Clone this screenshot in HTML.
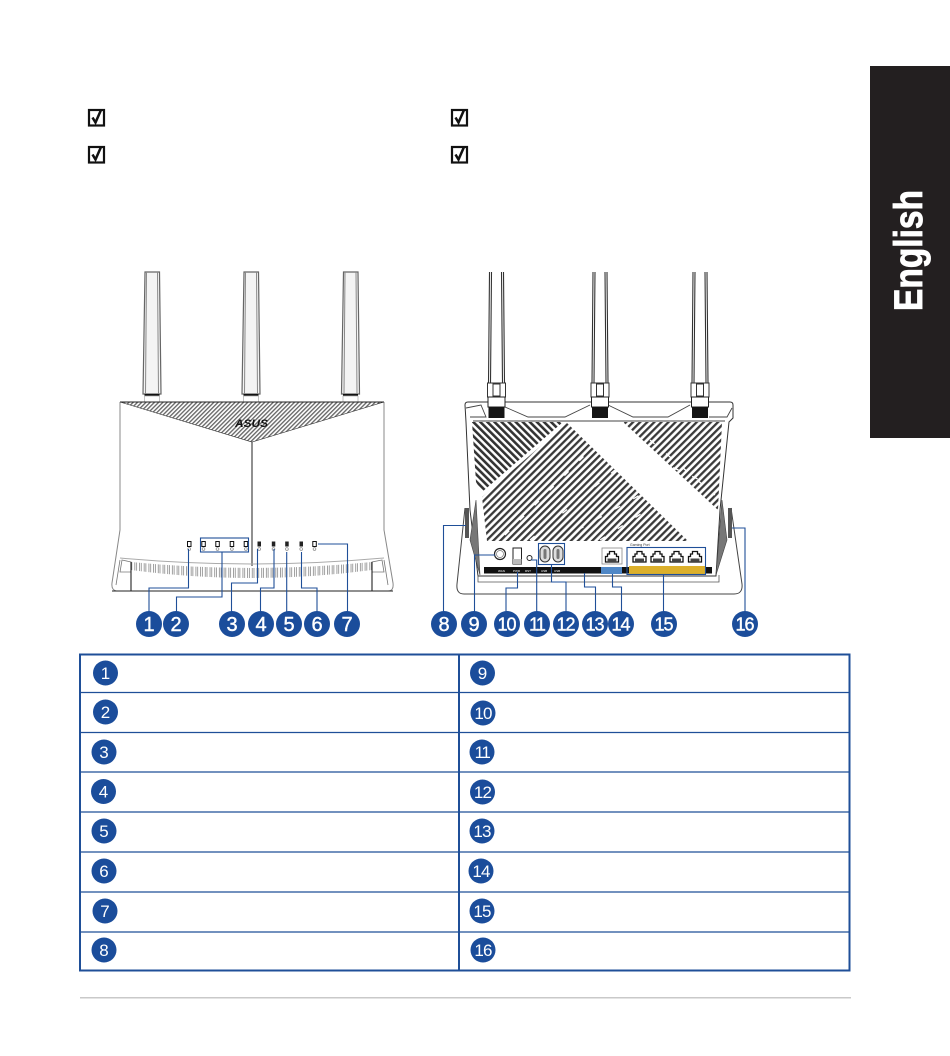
<!DOCTYPE html>
<html lang="en"><head><meta charset="utf-8"><title>Router diagram</title>
<style>html,body{margin:0;padding:0;background:#fff}svg{display:block}text{font-family:"Liberation Sans",sans-serif}</style></head>
<body>
<svg width="950" height="1056" viewBox="0 0 950 1056" xmlns="http://www.w3.org/2000/svg">
<defs>
<pattern id="hf" width="3" height="3" patternUnits="userSpaceOnUse" patternTransform="rotate(45)"><rect width="3" height="3" fill="#fff"/><rect width="1.35" height="3" fill="#666"/></pattern>
<pattern id="hd" width="5" height="5" patternUnits="userSpaceOnUse" patternTransform="rotate(-45)"><rect width="5" height="5" fill="#fff"/><rect width="2.600" height="5" fill="#333"/></pattern>
<pattern id="hl" width="5" height="5" patternUnits="userSpaceOnUse" patternTransform="rotate(45)"><rect width="5" height="5" fill="#fff"/><rect width="2.300" height="5" fill="#3a3a3a"/></pattern>
<pattern id="sl" width="4.700" height="30" patternUnits="userSpaceOnUse" x="131"><rect width="4.700" height="30" fill="#fff"/><rect x=".8" y="-2" width="3" height="34" fill="#fff" stroke="#777" stroke-width=".7"/></pattern>
<g id="fa"><path d="M-7 0H7.500L9 122H-9Z" fill="#f4f4f4" stroke="#666" stroke-width="1.200"/><path d="M-5.500 0L-6.500 122M5.500 0L6.500 122" stroke="#888" stroke-width="1" fill="none"/><rect x="-7.500" y="122" width="15" height="1.800" fill="#111"/><rect x="-7.500" y="124" width="15" height="6" fill="#fff" stroke="#999" stroke-width=".6"/></g>
<g id="ba"><path d="M-7 0L-8 111M-5 0L-6 111M5 0L6 111M7 0L8 111" stroke="#333" stroke-width="1.100" fill="none"/><rect x="-9" y="111" width="18" height="14" fill="#fff" stroke="#333"/><rect x="-3.500" y="112" width="7" height="12" fill="#fff" stroke="#333"/><rect x="-8.500" y="125" width="17" height="10" fill="#fff" stroke="#222"/><rect x="-8" y="135" width="16" height="11" fill="#151515"/></g>
<g id="pt"><path d="M-6.500 5V-.5H-4.500V-3H-2.500V-5.500H2.500V-3H4.500V-.5H6.500V5Z" fill="#fff" stroke="#111" stroke-width="1.300"/><rect x="-4.500" y="1.500" width="9" height="3.500" fill="#444"/></g>
<g id="ck"><rect x="89" y="1" width="15" height="15.500" fill="#fff" stroke="#111" stroke-width="2.200"/><path d="M92.500 8.500L95.500 13.500L101 1" fill="none" stroke="#111" stroke-width="2.500"/></g>
<g id="led"><rect x="-1.500" y="-2.500" width="3.500" height="5" fill="#fff" stroke="#111" stroke-width="1"/><circle cx=".2" cy="5" r="1.400" fill="none" stroke="#888" stroke-width=".7"/></g>
<g id="ldk"><rect x="-1.500" y="-2.500" width="3.500" height="5" fill="#222"/><circle cx=".2" cy="5" r="1.400" fill="none" stroke="#888" stroke-width=".7"/></g>
<clipPath id="slc"><path d="M131 562Q252 574 372 562V570Q252 586 131 570Z"/></clipPath>
</defs>

<rect width="950" height="1056" fill="#fff"/>
<rect x="870" y="66" width="80" height="372" fill="#231f20"/>
<text transform="translate(922 311) rotate(-90)" font-size="40" font-weight="700" fill="#fff" stroke="#fff" stroke-width=".9" textLength="121" lengthAdjust="spacingAndGlyphs">English</text>

<use href="#ck" y="109"/><use href="#ck" y="146"/><use href="#ck" x="363" y="109"/><use href="#ck" x="363" y="146"/>

<!-- front -->
<use href="#fa" x="152" y="272"/><use href="#fa" x="251" y="272"/><use href="#fa" x="350.500" y="272"/>
<path d="M120 402V530L112 583Q111 591 118 591H388Q394 591 393 583L384 530V402" fill="#fff" stroke="#888" stroke-width="1"/>
<path d="M120 402H384L252 442Z" fill="url(#hf)" stroke="#333" stroke-width=".6"/>
<path d="M120 402H384" stroke="#222" stroke-width="1"/>
<text x="235" y="427" font-size="11" font-weight="700" font-style="italic" fill="#111" textLength="33" lengthAdjust="spacingAndGlyphs">ASUS</text>
<path d="M252 442V566" stroke="#222" stroke-width="1"/>
<path d="M120 558Q252 570 384 558" fill="none" stroke="#aaa" stroke-width="1"/>
<path d="M120 560L116 585M122 560L131 562L131 572L120 572Z M384 560L388 585M382 560L372 562L372 572L384 572Z" fill="none" stroke="#777" stroke-width=".8"/>
<rect x="131" y="560" width="241" height="30" fill="url(#sl)" clip-path="url(#slc)"/>
<path d="M131 562V591M372 562V591M112 591H393" stroke="#222" stroke-width="1.100" fill="none"/>
<use href="#led" x="189" y="544"/><use href="#led" x="203.300" y="544"/><use href="#led" x="217.300" y="544"/><use href="#led" x="231.700" y="544"/><use href="#led" x="245.700" y="544"/><use href="#ldk" x="259" y="544"/><use href="#ldk" x="273.300" y="544"/><use href="#ldk" x="286.700" y="544"/><use href="#ldk" x="301" y="544"/><use href="#led" x="314.300" y="544"/>

<!-- back -->
<path d="M465 508L457 584Q456 594 464 594H734Q743 594 742 584L731 508" fill="#fff" stroke="#444" stroke-width="1"/>
<path d="M465 405Q465 402 468 402H730Q733 402 733 405V418L729 422L720 510L716 576H478L470 510L466 422Z" fill="#fff" stroke="#333" stroke-width="1"/>
<path d="M466 408L481 405L486 417H470M505 407L528 417H565L590 405M608 405L633 417H668L690 405M709 417H727L732 408M473 421H725" fill="none" stroke="#444" stroke-width=".9"/>
<path d="M472 422L476 482L482 492L563 422Z" fill="url(#hd)"/>
<path d="M567 423L688 541H487L482 497Z" fill="url(#hl)"/>
<path d="M623 422H722L718 510Z" fill="url(#hl)"/>
<g stroke="#fff" stroke-width="1.300" fill="none" stroke-dasharray="6 15"><path d="M490 520L560 450M505 535L590 450M530 540L615 470M560 540L640 495M600 540L655 505M635 450L700 480M650 440L715 495"/></g>
<path d="M476 500L480 575L470 540ZM722 500L716 575L727 540Z" fill="#777" stroke="#444" stroke-width=".6"/>
<rect x="465" y="508" width="4" height="30" fill="#555"/><rect x="728" y="508" width="4" height="30" fill="#555"/>
<path d="M478 575V582H719V575" stroke="#555" stroke-width=".8" fill="none"/>
<use href="#ba" x="496.500" y="272"/><use href="#ba" x="600" y="272"/><use href="#ba" x="700" y="272"/>
<circle cx="500" cy="554" r="5.500" fill="#fff" stroke="#222" stroke-width="1.200"/><circle cx="500" cy="554" r="3.500" fill="#fff" stroke="#777" stroke-width=".7"/>
<rect x="513" y="548" width="8.500" height="16" fill="#fff" stroke="#222"/><rect x="513" y="559" width="8.500" height="5" fill="#bbb"/>
<circle cx="529.500" cy="558" r="2.500" fill="#fff" stroke="#222"/>
<rect x="540" y="546" width="10" height="16" rx="5" fill="#ddd" stroke="#333" stroke-width="1"/><rect x="543.500" y="549" width="3" height="10" rx="1.500" fill="#777"/>
<rect x="553" y="546" width="10" height="16" rx="5" fill="#ddd" stroke="#333" stroke-width="1"/><rect x="556.500" y="549" width="3" height="10" rx="1.500" fill="#777"/>
<rect x="602" y="548" width="20" height="16" fill="#fff" stroke="#888" stroke-width=".8"/>
<use href="#pt" x="612" y="557"/><use href="#pt" x="639.500" y="557"/><use href="#pt" x="657.500" y="557"/><use href="#pt" x="676.500" y="557"/><use href="#pt" x="695" y="557"/>
<rect x="484" y="567" width="228" height="6.500" fill="#111"/>
<rect x="601" y="567" width="21" height="7" fill="#4f87c6"/>
<rect x="629" y="566" width="76" height="8" fill="#dcb02c"/>
<text x="498" y="572" font-size="3" fill="#fff">WAN</text><text x="513" y="572" font-size="3" fill="#fff">PWR</text><text x="525" y="572" font-size="3" fill="#fff">RST</text><text x="541" y="572" font-size="3" fill="#fff">USB</text><text x="554" y="572" font-size="3" fill="#fff">USB</text>
<text x="630" y="546" font-size="3.500" fill="#333">Gaming Port</text>

<!-- connectors -->
<g fill="none" stroke="#1f4f98" stroke-width="1.100">
<rect x="200.500" y="538" width="48" height="14"/>
<rect x="538.500" y="543.500" width="26" height="21"/>
<rect x="627" y="547.500" width="78.500" height="27"/>
<path d="M188.500 549V588H149V612M222 552V597H176.500V612M257.500 549V583H231.500V612M274 549V588H260.500V612M286.700 552V612M301.500 552V588H317V612M318 544H347.500V612"/>
<path d="M466 525.500H443.500V612M495 555H474.500V612M517.500 572V588H506V612M531 560H536.700V612M551.500 565V582H566V612M584.500 573V587H595.500V612M612.500 574V587H621.500V612M663.500 575V612M732 528H745V612"/>
</g>

<!-- diagram numbers -->
<g fill="#1b4d9b"><circle cx="149" cy="624" r="13"/><circle cx="176" cy="624" r="13"/><circle cx="232" cy="624" r="13"/><circle cx="261" cy="624" r="13"/><circle cx="289" cy="624" r="13"/><circle cx="317" cy="624" r="13"/><circle cx="347" cy="624" r="13"/><circle cx="444" cy="624" r="13"/><circle cx="474" cy="624" r="13"/><circle cx="507" cy="624" r="13"/><circle cx="537" cy="624" r="13"/><circle cx="566" cy="624" r="13"/><circle cx="595" cy="624" r="13"/><circle cx="621" cy="624" r="13"/><circle cx="664" cy="624" r="13"/><circle cx="745" cy="624" r="13"/></g>
<g fill="#fff" font-size="20" text-anchor="middle" stroke="#fff" stroke-width=".4"><text x="149" y="631">1</text><text x="176" y="631">2</text><text x="232" y="631">3</text><text x="261" y="631">4</text><text x="289" y="631">5</text><text x="317" y="631">6</text><text x="347" y="631">7</text><text x="444" y="631">8</text><text x="474" y="631">9</text></g>
<g fill="#fff" font-size="18" text-anchor="middle" stroke="#fff" stroke-width=".4"><text x="506.500" y="630.500" letter-spacing="-1">10</text><text x="536.500" y="630.500" letter-spacing="-2">11</text><text x="565.500" y="630.500" letter-spacing="-1">12</text><text x="594.500" y="630.500" letter-spacing="-1">13</text><text x="620.500" y="630.500" letter-spacing="-1">14</text><text x="663.500" y="630.500" letter-spacing="-1">15</text><text x="744.500" y="630.500" letter-spacing="-1">16</text></g>

<!-- table -->
<rect x="80" y="654.500" width="769.500" height="316" fill="none" stroke="#1f4f98" stroke-width="2"/>
<path d="M459 655V970" stroke="#1f4f98" stroke-width="2"/>
<path d="M81 692.500H849M81 732.500H849M81 772H849M81 812H849M81 852H849M81 892H849M81 932H849" stroke="#1f4f98" stroke-width="1.200"/>
<g fill="#1b4d9b"><circle cx="105.500" cy="673" r="12.500"/><circle cx="105.500" cy="712" r="12.500"/><circle cx="104" cy="752" r="12.500"/><circle cx="103.500" cy="791.500" r="12.500"/><circle cx="104" cy="831" r="12.500"/><circle cx="104" cy="871" r="12.500"/><circle cx="105" cy="911" r="12.500"/><circle cx="104" cy="950" r="12.500"/><circle cx="482.500" cy="673" r="12.500"/><circle cx="483" cy="713" r="12.500"/><circle cx="482" cy="752" r="12.500"/><circle cx="482.500" cy="792" r="12.500"/><circle cx="482" cy="831" r="12.500"/><circle cx="481" cy="871" r="12.500"/><circle cx="482" cy="911" r="12.500"/><circle cx="483" cy="950" r="12.500"/></g>
<g fill="#fff" font-size="17" text-anchor="middle"><text x="105.500" y="679">1</text><text x="105.500" y="718">2</text><text x="104" y="758">3</text><text x="103.500" y="797.500">4</text><text x="104" y="837">5</text><text x="104" y="877">6</text><text x="105" y="917">7</text><text x="104" y="956">8</text><text x="482.500" y="679">9</text><text x="483" y="719" letter-spacing="-.8">10</text><text x="482" y="758" letter-spacing="-1.500">11</text><text x="482.500" y="798" letter-spacing="-.8">12</text><text x="482" y="837" letter-spacing="-.8">13</text><text x="481" y="877" letter-spacing="-.8">14</text><text x="482" y="917" letter-spacing="-.8">15</text><text x="483" y="956" letter-spacing="-.8">16</text></g>

<rect x="80" y="997" width="771" height="1.500" fill="#c9c9c9"/>
</svg>
</body></html>
